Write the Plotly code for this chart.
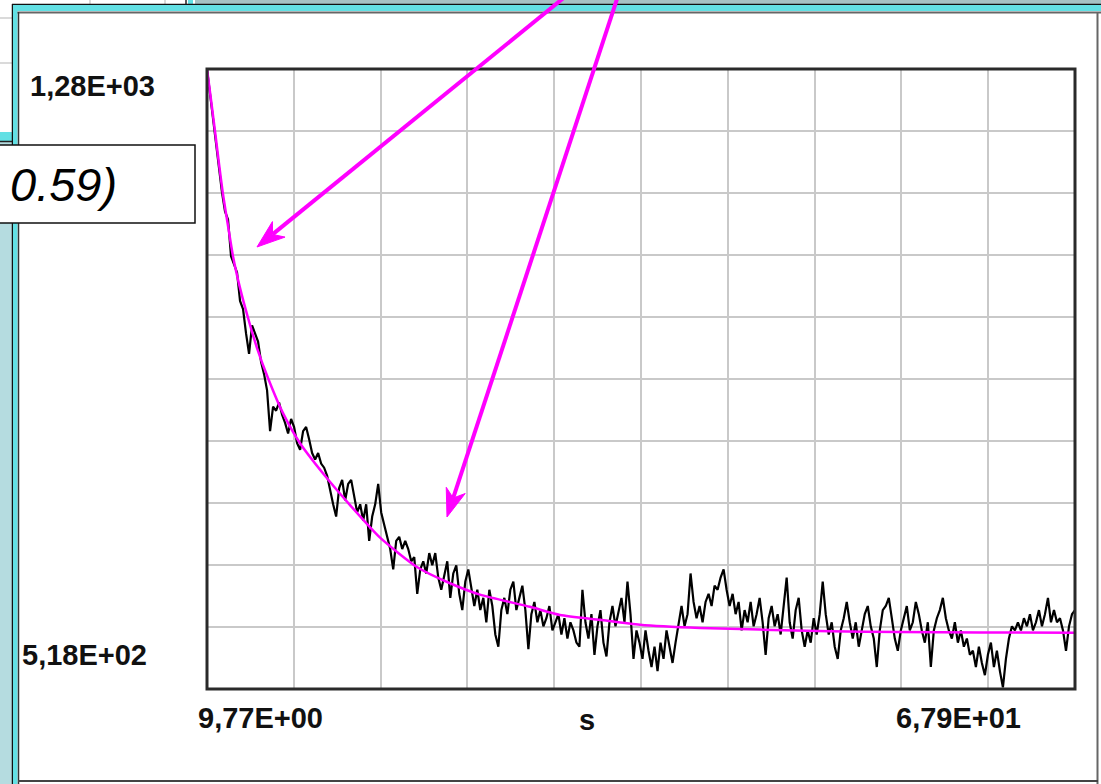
import numpy as np
import plotly.graph_objects as go

W, H = 1101, 784

# ---------------- data ----------------
t_start, t_end = 9.77, 67.9          # s
y_min, y_max = 518, 1280

signal = [
    1280, 1250, 1214, 1190, 1158, 1128, 1105, 1095, 1050, 1040,
    1030, 995, 985, 955, 930, 965, 955, 945, 920, 905,
    885, 835, 865, 860, 870, 855, 845, 832, 850, 840,
    820, 812, 835, 840, 825, 808, 800, 808, 795, 790,
    780, 760, 745, 730, 765, 775, 750, 770, 775, 755,
    735, 745, 725, 745, 700, 730, 745, 770, 735, 720,
    705, 690, 665, 700, 705, 690, 700, 690, 675, 680,
    635, 665, 675, 660, 685, 670, 685, 655, 640, 660,
    675, 630, 660, 670, 635, 615, 650, 665, 640, 620,
    640, 615, 630, 600, 640, 620, 585, 570, 615, 630,
    610, 640, 650, 615, 630, 645, 615, 567, 610, 625,
    600, 615, 595, 605, 620, 590, 600, 610, 585, 605,
    580, 600, 590, 575, 570, 640, 600, 580, 610, 560,
    595, 615, 575, 558, 600, 620, 595, 615, 630, 600,
    650, 610, 555, 590, 575, 555, 590, 565, 545, 570,
    540, 575, 555, 590, 570, 550, 575, 600, 620, 595,
    610, 660, 625, 605, 620, 600, 625, 635, 620, 645,
    640, 655, 665, 640, 620, 635, 610, 625, 590, 615,
    600, 625, 595, 610, 630, 600, 560, 605, 620, 595,
    610, 585, 620, 655, 600, 580, 615, 630, 590, 570,
    590, 575, 605, 585, 610, 650, 610, 585, 600, 570,
    555, 590, 605, 625, 600, 580, 600, 570, 590, 610,
    620, 595, 580, 545, 590, 615, 620, 630, 605, 580,
    565, 590, 605, 620, 590, 600, 625, 610, 590, 575,
    600, 545, 590, 605, 615, 630, 605, 590, 580, 600,
    575, 590, 570, 580, 560, 565, 545, 570, 550, 535,
    560, 575, 545, 565, 540, 520, 555, 580, 595, 590,
    600, 590, 605, 595, 610, 590, 600, 615, 595, 610,
    630, 600, 615, 600, 605, 590, 565, 595, 610, 615,
]

fit_t = [9.77, 10.04, 10.31, 10.57, 10.84, 11.18, 11.51, 11.98, 12.52, 13.12,
         13.86, 14.86, 16.00, 17.67, 19.35, 21.36, 23.83, 26.04, 28.05, 31.40,
         33.41, 36.09, 38.77, 42.79, 46.81, 51.49, 56.18, 61.54, 67.90]
fit_v = [1280, 1242, 1203, 1164, 1126, 1087, 1050, 1011, 974, 937,
         900, 857, 820, 780, 744, 704, 668, 648, 634, 619,
         609, 603, 597, 593, 591, 589, 588, 587.5, 587]

y_top_label = "1,28E+03"
y_bottom_label = "5,18E+02"
x_left_label = "9,77E+00"
x_right_label = "6,79E+01"
x_unit_label = "s"
note_text = "0.59)"

t = np.linspace(t_start, t_end, len(signal))

# ---------------- helpers (pixel -> paper) ----------------
def PX(x):
    return x / W

def PY(y):
    return 1 - y / H

shapes = []

def rect(x0, y0, x1, y1, fill, lc=None, lw=0):
    shapes.append(dict(type="rect", xref="paper", yref="paper",
                       x0=PX(x0), x1=PX(x1), y0=PY(y1), y1=PY(y0),
                       fillcolor=fill,
                       line=dict(color=lc or fill, width=lw)))

def line(x0, y0, x1, y1, color, width):
    shapes.append(dict(type="line", xref="paper", yref="paper",
                       x0=PX(x0), x1=PX(x1), y0=PY(y0), y1=PY(y1),
                       line=dict(color=color, width=width)))

def arrow(tail, tip, color="#ff00ff", width=4, L=28, Wd=10, notch=8):
    tx, ty = tail
    hx, hy = tip
    dx, dy = hx - tx, hy - ty
    n = (dx * dx + dy * dy) ** 0.5
    ux, uy = dx / n, dy / n
    nx, ny = -uy, ux
    bx, by = hx - L * ux, hy - L * uy
    kx, ky = hx - (L - notch) * ux, hy - (L - notch) * uy
    line(tx, ty, kx, ky, color, width)
    pts = [(hx, hy), (bx + Wd * nx, by + Wd * ny), (kx, ky), (bx - Wd * nx, by - Wd * ny)]
    path = "M " + " L ".join(f"{PX(a):.5f},{PY(b):.5f}" for a, b in pts) + " Z"
    shapes.append(dict(type="path", xref="paper", yref="paper", path=path,
                       fillcolor=color, line=dict(color=color, width=1)))

# ---------------- window decorations ----------------
CYAN = "#62e0e4"
rect(195, -2, 1103, 4, "#a6c2c4")
line(0, 18, 12, 18, "#b5b5b5", 1)
line(0, 63, 12, 63, "#b5b5b5", 1)
line(90, 0, 90, 4, "#b5b5b5", 1)
line(165, 0, 165, 4, "#b5b5b5", 1)
line(186, 0, 186, 4, "#222", 1.5)
rect(188, -2, 193, 4, CYAN)
# top frame
line(12, 4.5, 1103, 4.5, "#111", 1.5)
rect(13, 5, 1103, 11, CYAN)
line(17, 12.5, 1103, 12.5, "#666", 2)
# left frame
rect(-2, 132, 12, 786, CYAN)
rect(-2, 142, 12, 786, "#b5dce0")
line(-2, 141.5, 12, 141.5, "#222", 1.5)
line(12.5, 4, 12.5, 786, "#111", 1.5)
rect(13, 5, 17.5, 786, CYAN)
line(18.5, 12, 18.5, 786, "#333", 1.5)
# right / bottom
line(1097.5, 12, 1097.5, 786, "#666", 2)
line(18, 781, 1098, 781, "#444", 2)
# note box
rect(-3, 145, 195, 223, "white", "#111", 1.5)

# plot frame
rect(207, 69, 1075, 689, "rgba(0,0,0,0)", "#2a2a2a", 3)

# magenta arrows
arrow((566, -4), (257, 247))
arrow((618, -4), (447, 517))

# ---------------- figure ----------------
fig = go.Figure()
fig.add_trace(go.Scatter(x=t, y=signal, mode="lines",
                         line=dict(color="#000000", width=2.2),
                         hoverinfo="skip", showlegend=False))
fig.add_trace(go.Scatter(x=fit_t, y=fit_v, mode="lines",
                         line=dict(color="#ff00ff", width=2.5, shape="spline", smoothing=0.6),
                         hoverinfo="skip", showlegend=False))

LAB = dict(family="Liberation Sans, Arial, sans-serif",
           size=29, color="#111111", weight="bold")

def label(text, cx, cy, font=LAB, xanchor="center"):
    return dict(text=text, xref="paper", yref="paper", x=PX(cx), y=PY(cy),
                xanchor=xanchor, yanchor="middle", showarrow=False, font=font)

annotations = [
    label(y_top_label, 92, 86),
    label(y_bottom_label, 84, 655),
    label(x_left_label, 260, 718),
    label(x_unit_label, 587, 720),
    label(x_right_label, 958, 718),
    label(note_text, 8, 184,
          font=dict(family="Liberation Sans, Arial, sans-serif", size=47,
                    color="#000000", style="italic"), xanchor="left"),
]

fig.update_layout(
    width=W, height=H, autosize=False,
    margin=dict(l=0, r=0, t=0, b=0, pad=0),
    paper_bgcolor="white", plot_bgcolor="white",
    showlegend=False,
    xaxis=dict(domain=[PX(207), PX(1075)], range=[t_start, t_end],
               tick0=t_start, dtick=(t_end - t_start) / 10,
               showgrid=True, gridcolor="#c9c9c9", gridwidth=2,
               showticklabels=False, ticks="", zeroline=False, showline=False),
    yaxis=dict(domain=[PY(689), PY(69)], range=[y_min, y_max],
               tick0=y_min, dtick=(y_max - y_min) / 10,
               showgrid=True, gridcolor="#c9c9c9", gridwidth=2,
               showticklabels=False, ticks="", zeroline=False, showline=False),
    shapes=shapes,
    annotations=annotations,
)

fig.write_html("out.html", config={"displayModeBar": False},
               post_script="document.body.style.margin='0';document.body.style.overflow='hidden';")
